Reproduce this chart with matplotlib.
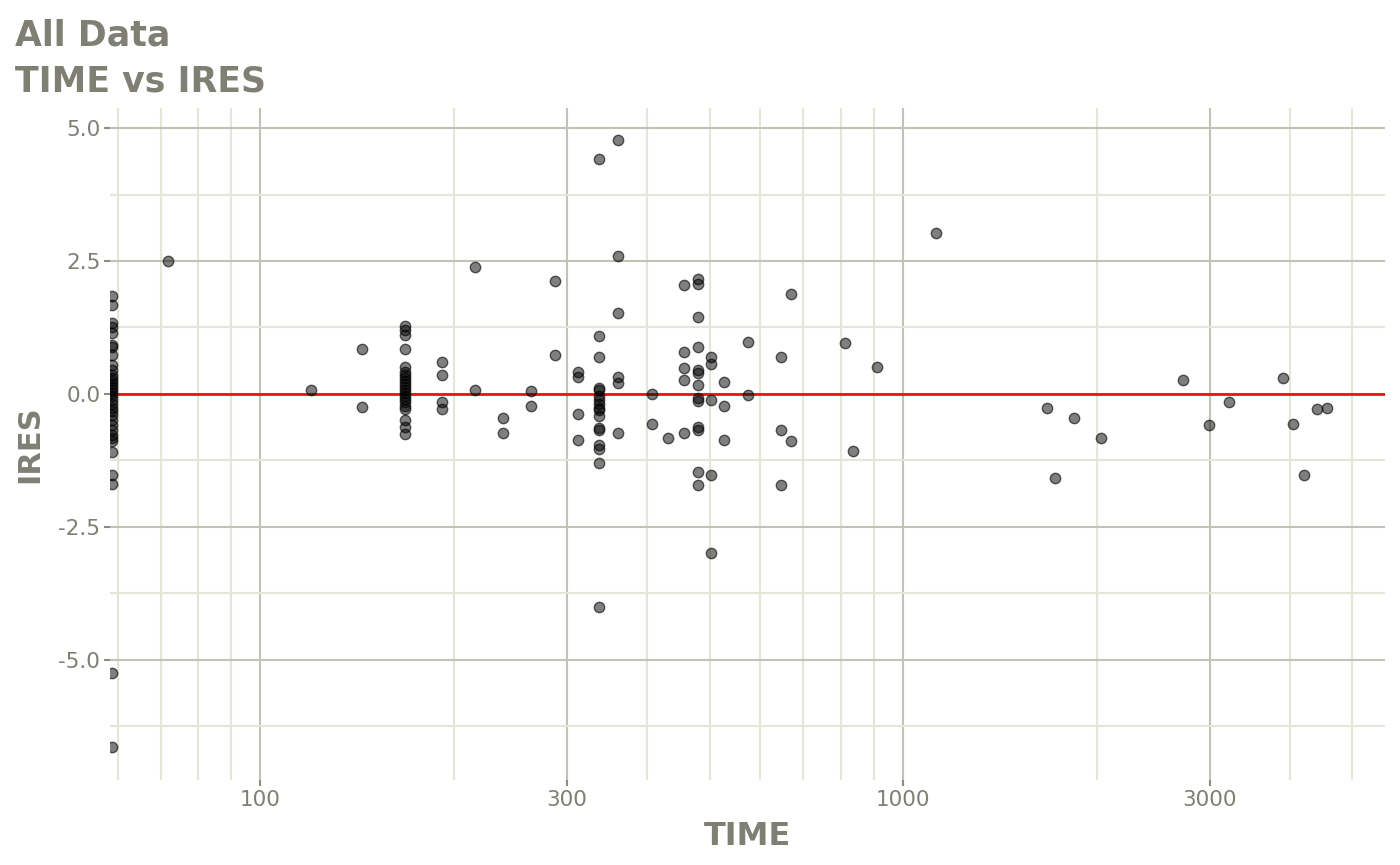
import matplotlib
matplotlib.use("Agg")
import matplotlib.pyplot as plt
from matplotlib.ticker import FixedLocator, NullFormatter
import numpy as np

# ---- data (TIME, IRES) grouped by TIME ----
time_groups = [58.8, 71.9, 120, 144, 168, 192, 216, 239, 264, 288, 312, 336, 360,
               407, 431, 456, 480, 503, 527, 574, 646, 670, 813, 836, 911, 1125,
               1675, 1723, 1845, 2032, 2726, 2993, 3215, 3900, 4042, 4203, 4403, 4563]
ires_groups = [
    [1.84, 1.67, 1.33, 1.26, 1.15, 0.92, 0.88, 0.73, 0.55, 0.45, 0.36, 0.30, 0.24, 0.19,
     0.13, 0.08, 0.02, -0.04, -0.11, -0.19, -0.26, -0.32, -0.39, -0.49, -0.58, -0.68,
     -0.77, -0.83, -0.88, -1.09, -1.52, -1.69, -5.24, -6.64],
    [2.50],
    [0.075],
    [0.85, -0.24],
    [1.28, 1.20, 1.11, 0.85, 0.51, 0.41, 0.36, 0.30, 0.24, 0.19, 0.13, 0.08, 0.02, -0.04,
     -0.09, -0.15, -0.23, -0.28, -0.49, -0.62, -0.75],
    [0.60, 0.36, -0.15, -0.28],
    [2.39, 0.08],
    [-0.45, -0.73],
    [0.06, -0.23],
    [2.12, 0.73],
    [0.41, 0.32, -0.38, -0.86],
    [4.42, 1.09, 0.70, 0.11, 0.08, -0.04, -0.11, -0.19, -0.26, -0.30, -0.41, -0.64,
     -0.68, -0.96, -1.03, -1.30, -4.00],
    [4.77, 2.59, 1.52, 0.32, 0.21, -0.73],
    [0.0, -0.56],
    [-0.83],
    [2.05, 0.79, 0.49, 0.26, -0.73],
    [2.16, 2.07, 1.45, 0.88, 0.45, 0.39, 0.17, -0.08, -0.13, -0.62, -0.68, -1.47, -1.71],
    [0.70, 0.56, -0.11, -1.52, -2.99],
    [0.23, -0.23, -0.86],
    [0.98, -0.02],
    [0.70, -0.68, -1.71],
    [1.88, -0.88],
    [0.96],
    [-1.07],
    [0.51],
    [3.03],
    [-0.26],
    [-1.58],
    [-0.45],
    [-0.83],
    [0.26],
    [-0.58],
    [-0.15],
    [0.30],
    [-0.56],
    [-1.52],
    [-0.28],
    [-0.26],
]
time = [t for t, ys in zip(time_groups, ires_groups) for _ in ys]
ires = [y for ys in ires_groups for y in ys]

x_major = [100, 300, 1000, 3000]
x_major_labels = ["100", "300", "1000", "3000"]
x_minor = [60, 70, 80, 90, 200, 400, 500, 600, 700, 800, 900, 2000, 4000, 5000]
y_major = [-5.0, -2.5, 0.0, 2.5, 5.0]
y_major_labels = ["-5.0", "-2.5", "0.0", "2.5", "5.0"]
y_minor = [-6.25, -3.75, -1.25, 1.25, 3.75]

txt_col = "#7f7f74"
major_col = "#c2c2b6"
minor_col = "#e6e6d8"
tick_col = "#8c8c82"

fig = plt.figure(figsize=(14, 8.65), dpi=100)
ax = fig.add_axes([110/1400, 1-780/865, (1385-110)/1400, (780-108)/865])
ax.set_xscale("log")
ax.set_xlim(58.4, 5620)
ax.set_ylim(-7.256, 5.376)

ax.xaxis.set_major_locator(FixedLocator(x_major))
ax.set_xticklabels(x_major_labels)
ax.xaxis.set_minor_locator(FixedLocator(x_minor))
ax.xaxis.set_minor_formatter(NullFormatter())
ax.yaxis.set_major_locator(FixedLocator(y_major))
ax.set_yticklabels(y_major_labels)
ax.yaxis.set_minor_locator(FixedLocator(y_minor))

ax.grid(which="major", color=major_col, lw=1.5, zorder=0)
ax.grid(which="minor", color=minor_col, lw=1.5, zorder=0)
ax.set_axisbelow(True)
for s in ax.spines.values():
    s.set_visible(False)
ax.tick_params(which="major", length=4, width=1.5, color=tick_col,
               labelsize=15.5, labelcolor=txt_col, pad=3)
ax.tick_params(which="minor", length=0)

ax.axhline(0, color="#e8141b", lw=2.0, zorder=2)
ax.scatter(time, ires, s=56, facecolor=(0, 0, 0, 0.5), edgecolor=(0, 0, 0, 0.6),
           linewidth=1.0, zorder=3)

ax.set_xlabel("TIME", fontsize=23, fontweight="bold", color=txt_col, labelpad=8)
ax.set_ylabel("IRES", fontsize=22, fontweight="bold", color=txt_col, labelpad=10)

fig.text(15/1400, 1-45/865, "All Data", fontsize=25, fontweight="bold", color=txt_col,
         ha="left", va="baseline")
fig.text(15/1400, 1-91/865, "TIME vs IRES", fontsize=25, fontweight="bold", color=txt_col,
         ha="left", va="baseline")

fig.savefig("out.png", dpi=100)
